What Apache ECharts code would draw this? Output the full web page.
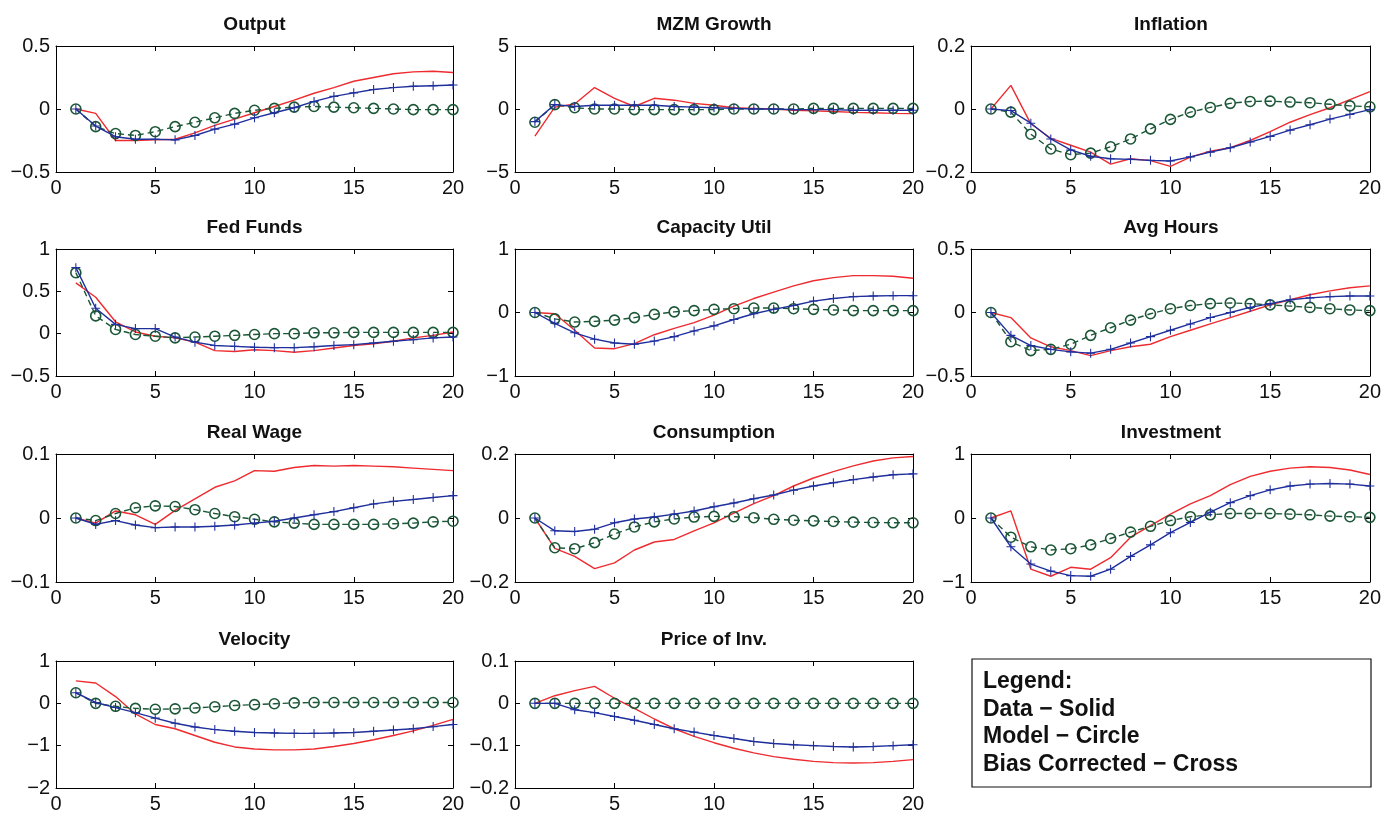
<!DOCTYPE html>
<html>
<head>
<meta charset="utf-8">
<script src="https://cdn.jsdelivr.net/npm/echarts@6/dist/echarts.min.js"></script>
<style>
  html, body { margin: 0; background: #fff; }
  #chart { width: 1384px; height: 817px; }
</style>
</head>
<body>
<div id="chart"></div>
<script>
// horizon (quarters)
const horizon = [1, 2, 3, 4, 5, 6, 7, 8, 9, 10, 11, 12, 13, 14, 15, 16, 17, 18, 19, 20];

const titles = ['Output', 'MZM Growth', 'Inflation', 'Fed Funds', 'Capacity Util', 'Avg Hours',
  'Real Wage', 'Consumption', 'Investment', 'Velocity', 'Price of Inv.'];

// y axis ranges per panel
const yMin  = [-0.5, -5, -0.2, -0.5, -1, -0.5, -0.1, -0.2, -1, -2, -0.2];
const yMax  = [0.5, 5, 0.2, 1, 1, 0.5, 0.1, 0.2, 1, 1, 0.1];
const yStep = [0.5, 5, 0.2, 0.5, 1, 0.5, 0.1, 0.2, 1, 1, 0.1];

// Data - solid, Model - circle, Bias corrected - cross
const outputData = [0, -0.035, -0.25, -0.25, -0.245, -0.24, -0.19, -0.13, -0.08, -0.03, 0.02, 0.07, 0.125, 0.17, 0.22, 0.25, 0.28, 0.295, 0.30, 0.29];
const outputModel = [0, -0.14, -0.195, -0.21, -0.18, -0.14, -0.105, -0.07, -0.035, -0.01, 0.005, 0.015, 0.02, 0.015, 0.01, 0.005, 0, -0.005, -0.005, -0.005];
const outputBias = [0, -0.135, -0.22, -0.24, -0.24, -0.245, -0.21, -0.16, -0.12, -0.07, -0.03, 0.01, 0.06, 0.1, 0.128, 0.155, 0.17, 0.18, 0.185, 0.19];

const mzmData = [-2.15, 0.15, 0.4, 1.7, 0.85, 0.2, 0.85, 0.7, 0.45, 0.3, 0.1, 0.05, 0, -0.1, -0.15, -0.2, -0.27, -0.3, -0.35, -0.37];
const mzmModel = [-1.05, 0.35, 0.1, 0, 0, -0.05, -0.05, -0.05, -0.05, -0.05, 0, 0, 0, 0, 0.05, 0.05, 0.05, 0.05, 0.05, 0.05];
const mzmBias = [-1.0, 0.35, 0.2, 0.3, 0.3, 0.3, 0.3, 0.2, 0.15, 0.1, 0.05, 0, 0, -0.05, -0.05, -0.05, -0.1, -0.1, -0.1, -0.1];

const inflData = [0, 0.075, -0.047, -0.093, -0.115, -0.137, -0.175, -0.158, -0.164, -0.182, -0.153, -0.134, -0.123, -0.1, -0.072, -0.042, -0.018, 0.004, 0.03, 0.055];
const inflModel = [0, -0.01, -0.08, -0.127, -0.145, -0.14, -0.12, -0.095, -0.063, -0.033, -0.01, 0.005, 0.018, 0.024, 0.025, 0.022, 0.02, 0.015, 0.01, 0.007];
const inflBias = [0, -0.005, -0.045, -0.095, -0.13, -0.15, -0.158, -0.16, -0.163, -0.165, -0.152, -0.137, -0.123, -0.105, -0.087, -0.067, -0.05, -0.032, -0.017, -0.002];

const fedData = [0.6, 0.43, 0.14, 0.02, -0.03, -0.05, -0.1, -0.2, -0.21, -0.19, -0.2, -0.22, -0.2, -0.17, -0.14, -0.12, -0.09, -0.05, -0.02, 0.02];
const fedModel = [0.72, 0.21, 0.05, -0.01, -0.03, -0.05, -0.04, -0.03, -0.02, -0.01, 0, 0, 0.01, 0.01, 0.015, 0.015, 0.015, 0.015, 0.015, 0.015];
const fedBias = [0.78, 0.3, 0.11, 0.06, 0.06, -0.04, -0.1, -0.14, -0.15, -0.16, -0.165, -0.165, -0.155, -0.14, -0.13, -0.11, -0.09, -0.07, -0.05, -0.04];

const capData = [0, -0.02, -0.28, -0.56, -0.57, -0.49, -0.35, -0.25, -0.16, -0.04, 0.1, 0.22, 0.32, 0.42, 0.5, 0.55, 0.58, 0.58, 0.57, 0.54];
const capModel = [0, -0.1, -0.15, -0.14, -0.12, -0.08, -0.03, 0.01, 0.03, 0.05, 0.06, 0.07, 0.07, 0.06, 0.05, 0.04, 0.03, 0.03, 0.03, 0.03];
const capBias = [0, -0.17, -0.32, -0.42, -0.48, -0.5, -0.45, -0.38, -0.29, -0.21, -0.11, -0.02, 0.05, 0.11, 0.18, 0.22, 0.25, 0.26, 0.265, 0.265];

const hoursData = [0, -0.04, -0.2, -0.27, -0.3, -0.34, -0.3, -0.27, -0.25, -0.19, -0.14, -0.09, -0.04, 0.01, 0.06, 0.1, 0.14, 0.17, 0.195, 0.21];
const hoursModel = [0, -0.23, -0.3, -0.29, -0.25, -0.18, -0.12, -0.06, -0.01, 0.03, 0.055, 0.07, 0.075, 0.07, 0.06, 0.05, 0.04, 0.03, 0.02, 0.015];
const hoursBias = [0, -0.18, -0.26, -0.29, -0.31, -0.32, -0.29, -0.24, -0.19, -0.14, -0.09, -0.04, 0, 0.04, 0.07, 0.1, 0.115, 0.125, 0.13, 0.13];

const wageData = [0, -0.008, 0.011, 0.005, -0.01, 0.012, 0.03, 0.048, 0.058, 0.074, 0.073, 0.079, 0.082, 0.081, 0.082, 0.081, 0.08, 0.078, 0.076, 0.074];
const wageModel = [0, -0.004, 0.007, 0.016, 0.019, 0.018, 0.013, 0.007, 0.002, -0.002, -0.006, -0.008, -0.01, -0.01, -0.01, -0.01, -0.009, -0.008, -0.006, -0.005];
const wageBias = [0, -0.01, -0.004, -0.011, -0.015, -0.014, -0.014, -0.013, -0.011, -0.008, -0.005, 0, 0.005, 0.01, 0.016, 0.022, 0.026, 0.029, 0.032, 0.035];

const consData = [0, -0.095, -0.12, -0.158, -0.14, -0.1, -0.075, -0.067, -0.04, -0.015, 0.015, 0.045, 0.07, 0.1, 0.125, 0.145, 0.163, 0.178, 0.188, 0.192];
const consModel = [0, -0.093, -0.096, -0.077, -0.05, -0.028, -0.012, -0.003, 0.003, 0.005, 0.004, 0.001, -0.004, -0.007, -0.009, -0.011, -0.013, -0.014, -0.015, -0.015];
const consBias = [0, -0.04, -0.042, -0.035, -0.015, -0.003, 0.003, 0.012, 0.022, 0.035, 0.047, 0.06, 0.072, 0.087, 0.1, 0.11, 0.12, 0.128, 0.135, 0.138];

const invData = [0, 0.11, -0.8, -0.91, -0.77, -0.8, -0.62, -0.3, -0.12, 0.06, 0.22, 0.35, 0.52, 0.65, 0.73, 0.78, 0.8, 0.79, 0.75, 0.68];
const invModel = [0, -0.3, -0.45, -0.5, -0.48, -0.42, -0.32, -0.22, -0.13, -0.04, 0.02, 0.05, 0.07, 0.07, 0.07, 0.06, 0.05, 0.03, 0.02, 0.01];
const invBias = [0, -0.45, -0.72, -0.83, -0.9, -0.91, -0.8, -0.6, -0.42, -0.23, -0.07, 0.09, 0.24, 0.35, 0.44, 0.5, 0.53, 0.54, 0.53, 0.5];

const velData = [0.53, 0.48, 0.16, -0.25, -0.5, -0.6, -0.76, -0.92, -1.03, -1.08, -1.1, -1.1, -1.08, -1.02, -0.95, -0.86, -0.76, -0.65, -0.52, -0.38];
const velModel = [0.25, 0, -0.07, -0.12, -0.14, -0.13, -0.11, -0.08, -0.05, -0.03, -0.01, 0.01, 0.02, 0.02, 0.02, 0.02, 0.02, 0.02, 0.02, 0.02];
const velBias = [0.25, 0.02, -0.1, -0.22, -0.35, -0.47, -0.56, -0.62, -0.66, -0.69, -0.7, -0.71, -0.71, -0.7, -0.69, -0.66, -0.63, -0.6, -0.55, -0.5];

const pinvData = [0, 0.018, 0.03, 0.04, 0.012, -0.012, -0.037, -0.06, -0.078, -0.093, -0.106, -0.117, -0.126, -0.132, -0.137, -0.14, -0.141, -0.14, -0.137, -0.133];
const pinvModel = [0, 0, 0, 0, 0, 0, 0, 0, 0, 0, 0, 0, 0, 0, 0, 0, 0, 0, 0, 0];
const pinvBias = [0, 0, -0.015, -0.022, -0.031, -0.04, -0.05, -0.06, -0.068, -0.076, -0.083, -0.09, -0.095, -0.098, -0.1, -0.102, -0.103, -0.102, -0.1, -0.098];

const legendLines = ['Legend:', 'Data \u2212 Solid', 'Model \u2212 Circle', 'Bias Corrected \u2212 Cross'];

const dataSets = [outputData, mzmData, inflData, fedData, capData, hoursData, wageData, consData, invData, velData, pinvData];
const modelSets = [outputModel, mzmModel, inflModel, fedModel, capModel, hoursModel, wageModel, consModel, invModel, velModel, pinvModel];
const biasSets = [outputBias, mzmBias, inflBias, fedBias, capBias, hoursBias, wageBias, consBias, invBias, velBias, pinvBias];

// layout
const colX = [[56, 397], [515, 398], [971, 400]];
const rowY = [[46, 126], [249, 127], [454, 128], [661, 127]];

const FONT = "'Liberation Sans', Arial, sans-serif";
const RED = '#ee2b2f', GREEN = '#1b5636', BLUE = '#1f2f9c';
const CROSS = 'path://M-0.12,-1H0.12V-0.12H1V0.12H0.12V1H-0.12V0.12H-1V-0.12H-0.12Z';

const fmt = v => {
  const s = String(Math.round(v * 1000) / 1000);
  return s === '-0' ? '0' : s.replace('-', '\u2212');
};

const pairs = arr => horizon.map((h, i) => [h, arr[i]]);

const grids = [], xAxes = [], yAxes = [], series = [], graphics = [];

titles.forEach((t, i) => {
  const [left, width] = colX[i % 3];
  const [top, height] = rowY[Math.floor(i / 3)];
  grids.push({ left, top, width, height, containLabel: false });

  const axisLine = { show: true, onZero: false, lineStyle: { color: '#000', width: 1 } };
  const tick = { show: true, inside: true, length: 5, lineStyle: { color: '#000' } };
  // bottom / left with labels
  xAxes.push({
    type: 'value', gridIndex: i, min: 0, max: 20, interval: 5, position: 'bottom',
    axisLine, axisTick: tick, splitLine: { show: false },
    axisLabel: { color: '#111', fontSize: 20, fontFamily: FONT, margin: 6, formatter: fmt }
  });
  // top mirror
  xAxes.push({
    type: 'value', gridIndex: i, min: 0, max: 20, interval: 5, position: 'top',
    axisLine, axisTick: tick, splitLine: { show: false }, axisLabel: { show: false }
  });
  yAxes.push({
    type: 'value', gridIndex: i, min: yMin[i], max: yMax[i], interval: yStep[i], position: 'left',
    axisLine, axisTick: tick, splitLine: { show: false },
    axisLabel: { color: '#111', fontSize: 20, fontFamily: FONT, margin: 6, formatter: fmt }
  });
  yAxes.push({
    type: 'value', gridIndex: i, min: yMin[i], max: yMax[i], interval: yStep[i], position: 'right',
    axisLine, axisTick: tick, splitLine: { show: false }, axisLabel: { show: false }
  });

  const base = { type: 'line', xAxisIndex: 2 * i, yAxisIndex: 2 * i, silent: true, animation: false };
  series.push({
    ...base, name: 'Data', data: pairs(dataSets[i]), showSymbol: false, symbol: 'none',
    lineStyle: { color: RED, width: 1.4 }, z: 2
  });
  series.push({
    ...base, name: 'Model', data: pairs(modelSets[i]), symbol: 'circle', symbolSize: 10,
    itemStyle: { color: 'none', borderColor: GREEN, borderWidth: 1.6 },
    lineStyle: { color: GREEN, width: 1.4, type: [6, 4] }, z: 3
  });
  series.push({
    ...base, name: 'Bias Corrected', data: pairs(biasSets[i]), symbol: CROSS, symbolSize: 9,
    itemStyle: { color: BLUE },
    lineStyle: { color: BLUE, width: 1.4 }, z: 4
  });

  graphics.push({
    type: 'text', x: left + width / 2, y: top - 21,
    style: { text: t, font: `bold 19px ${FONT}`, fill: '#111', align: 'center', verticalAlign: 'middle' }
  });
});

// legend box
graphics.push({
  type: 'rect', shape: { x: 972, y: 659, width: 399, height: 128 },
  style: { fill: 'none', stroke: '#111', lineWidth: 1.2 }
});
legendLines.forEach((line, k) => {
  graphics.push({
    type: 'text', x: 983, y: 682 + k * 27.5,
    style: { text: line, font: `bold 23px ${FONT}`, fill: '#111', align: 'left', verticalAlign: 'middle' }
  });
});

const chart = echarts.init(document.getElementById('chart'));
chart.setOption({
  backgroundColor: '#fff',
  animation: false,
  grid: grids,
  xAxis: xAxes,
  yAxis: yAxes,
  series,
  graphic: graphics
});
</script>
</body>
</html>
